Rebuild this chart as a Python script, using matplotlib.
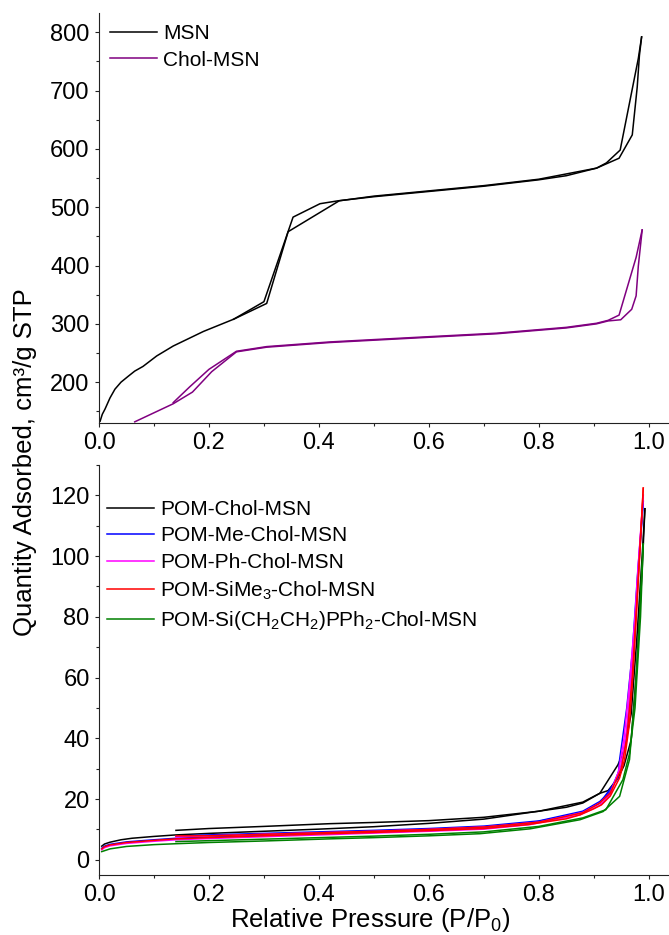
import matplotlib
matplotlib.use("Agg")
import matplotlib.pyplot as plt
from matplotlib.ticker import MultipleLocator, FormatStrFormatter

plt.rcParams['font.family'] = ['Liberation Sans', 'DejaVu Sans']
plt.rcParams['mathtext.fontset'] = 'custom'
plt.rcParams['mathtext.rm'] = 'Liberation Sans'
plt.rcParams['mathtext.it'] = 'Liberation Sans'

# ---- Upper panel: MSN and Chol-MSN isotherms ----
msn_ads_p = [0.002, 0.006, 0.011, 0.02, 0.029, 0.04, 0.053, 0.065, 0.08, 0.105, 0.135,
             0.19, 0.245, 0.30, 0.353, 0.402, 0.435, 0.5, 0.6, 0.7, 0.8, 0.85, 0.905,
             0.923, 0.948, 0.981, 0.987]
msn_ads_v = [133, 145, 154, 173, 188, 200, 210, 219, 227, 245, 262,
             287, 308, 338, 483, 506, 511, 518, 527, 536, 547, 554, 567,
             576, 598, 755, 792]
msn_des_p = [0.987, 0.983, 0.979, 0.970, 0.946, 0.905, 0.8, 0.7, 0.6, 0.5,
             0.437, 0.344, 0.305, 0.245]
msn_des_v = [792, 760, 706, 624, 584, 567, 548, 537, 528, 519,
             511, 458, 335, 308]

chol_ads_p = [0.065, 0.135, 0.17, 0.205, 0.25, 0.305, 0.42, 0.6, 0.723, 0.85,
              0.905, 0.926, 0.949, 0.969, 0.977, 0.981, 0.988]
chol_ads_v = [132, 163, 183, 218, 252, 260, 268, 277, 283, 293,
              300, 305, 307, 325, 348, 399, 461]
chol_des_p = [0.988, 0.977, 0.946, 0.926, 0.905, 0.85, 0.723, 0.6, 0.42, 0.305,
              0.25, 0.20, 0.165, 0.135]
chol_des_v = [461, 414, 315, 306, 301, 294, 284, 278, 269, 261,
              253, 222, 192, 165]

# ---- Lower panel: POM-loaded materials ----
pom_ads_p = {
    'POM-Chol-MSN': [0.005, 0.01, 0.02, 0.04, 0.06, 0.1, 0.14, 0.2, 0.3, 0.4, 0.5, 0.6,
                     0.7, 0.784, 0.85, 0.88, 0.911, 0.926, 0.944, 0.955, 0.968, 0.978, 0.988, 0.993],
    'POM-Me-Chol-MSN': [0.005, 0.01, 0.02, 0.05, 0.1, 0.14, 0.2, 0.3, 0.42, 0.5, 0.6,
                        0.7, 0.784, 0.875, 0.911, 0.92, 0.944, 0.947, 0.96, 0.97, 0.98, 0.99],
    'POM-Ph-Chol-MSN': [0.005, 0.01, 0.02, 0.05, 0.1, 0.14, 0.2, 0.3, 0.42, 0.5, 0.6,
                        0.7, 0.784, 0.875, 0.912, 0.93, 0.945, 0.955, 0.965, 0.975, 0.982, 0.99],
    'POM-SiMe$_3$-Chol-MSN': [0.005, 0.01, 0.02, 0.05, 0.1, 0.14, 0.2, 0.3, 0.4, 0.5, 0.6,
                              0.7, 0.78, 0.85, 0.875, 0.9, 0.914, 0.93, 0.947, 0.956, 0.965,
                              0.972, 0.982, 0.99],
    'POM-Si(CH$_2$CH$_2$)PPh$_2$-Chol-MSN': [0.005, 0.02, 0.05, 0.1, 0.14, 0.2, 0.3, 0.42,
                                             0.5, 0.6, 0.693, 0.784, 0.875, 0.917, 0.947,
                                             0.965, 0.975, 0.982, 0.987, 0.99],
}
pom_ads_v = {
    'POM-Chol-MSN': [4.5, 5.2, 5.8, 6.6, 7.1, 7.7, 8.2, 8.7, 9.4, 10.1, 10.9, 12.0,
                     13.4, 15.6, 17.3, 18.7, 21.9, 22.8, 26.9, 31.0, 39.5, 62.6, 95.6, 115.6],
    'POM-Me-Chol-MSN': [3.8, 4.5, 5.1, 5.9, 6.6, 7.1, 7.5, 8.1, 8.8, 9.3, 9.9,
                        10.6, 12.1, 15.4, 18.6, 20.9, 26.9, 33.0, 50.0, 68.0, 95.0, 118.0],
    'POM-Ph-Chol-MSN': [3.3, 4.0, 4.6, 5.4, 6.1, 6.6, 7.0, 7.6, 8.3, 8.8, 9.4,
                        10.1, 11.6, 14.8, 18.0, 21.5, 29.0, 40.0, 58.0, 80.0, 100.0, 120.0],
    'POM-SiMe$_3$-Chol-MSN': [3.6, 4.3, 4.9, 5.7, 6.4, 6.9, 7.3, 7.9, 8.5, 9.0, 9.6,
                              10.3, 11.6, 13.5, 14.8, 16.8, 18.1, 21.0, 27.0, 33.0, 45.0,
                              63.0, 95.0, 122.4],
    'POM-Si(CH$_2$CH$_2$)PPh$_2$-Chol-MSN': [2.7, 3.6, 4.4, 5.0, 5.3, 5.7, 6.2, 6.9,
                                             7.3, 7.9, 8.6, 10.2, 13.2, 15.9, 20.9,
                                             33.0, 55.0, 75.0, 95.0, 104.0],
}
pom_des_p = {
    'POM-Chol-MSN': [0.993, 0.988, 0.978, 0.968, 0.955, 0.944, 0.911, 0.88, 0.8, 0.7,
                     0.6, 0.5, 0.42, 0.3, 0.2, 0.14],
    'POM-Me-Chol-MSN': [0.99, 0.98, 0.97, 0.96, 0.95, 0.93, 0.911, 0.88, 0.8, 0.7,
                        0.6, 0.5, 0.4, 0.3, 0.2, 0.14],
    'POM-Ph-Chol-MSN': [0.99, 0.98, 0.97, 0.96, 0.95, 0.93, 0.912, 0.88, 0.8, 0.7,
                        0.6, 0.5, 0.4, 0.3, 0.2, 0.14],
    'POM-SiMe$_3$-Chol-MSN': [0.99, 0.98, 0.97, 0.96, 0.95, 0.93, 0.91, 0.88, 0.8, 0.7,
                              0.6, 0.5, 0.4, 0.3, 0.2, 0.14],
    'POM-Si(CH$_2$CH$_2$)PPh$_2$-Chol-MSN': [0.99, 0.985, 0.975, 0.965, 0.953, 0.922,
                                             0.88, 0.8, 0.7, 0.6, 0.5, 0.4, 0.3, 0.2,
                                             0.14],
}
pom_des_v = {
    'POM-Chol-MSN': [115.6, 100.0, 72.0, 48.0, 36.0, 31.3, 21.9, 19.0, 16.0, 14.0,
                     12.9, 12.3, 11.9, 11.0, 10.3, 9.7],
    'POM-Me-Chol-MSN': [118.0, 92.0, 62.0, 42.0, 31.0, 22.5, 19.2, 16.0, 12.8, 11.1,
                        10.3, 9.7, 9.2, 8.7, 8.2, 7.8],
    'POM-Ph-Chol-MSN': [120.0, 94.0, 64.0, 43.0, 31.0, 22.0, 18.8, 15.6, 12.4, 10.8,
                        10.0, 9.4, 8.9, 8.4, 7.9, 7.5],
    'POM-SiMe$_3$-Chol-MSN': [122.4, 90.0, 60.0, 40.0, 30.0, 22.0, 18.6, 15.5, 12.4, 10.8,
                              10.0, 9.4, 8.9, 8.4, 7.9, 7.9],
    'POM-Si(CH$_2$CH$_2$)PPh$_2$-Chol-MSN': [104.0, 80.0, 50.0, 35.0, 26.4, 16.5,
                                             13.8, 11.0, 9.2, 8.4, 7.8, 7.3, 6.8, 6.3,
                                             6.0],
}
pom_colors = ['#000000', '#0000FF', '#FF00FF', '#FF0000', '#008000']

LW = 1.1
TICK_FS = 17
LEG_FS = 15
LABEL_FS = 18.5

fig = plt.figure(figsize=(6.69, 9.35), dpi=100)
ax_top = fig.add_axes([99 / 669, 1 - 423 / 935, 569 / 669, 410 / 935])
ax_bot = fig.add_axes([99 / 669, 1 - 875 / 935, 569 / 669, 410 / 935])

ax_top.plot(msn_ads_p, msn_ads_v, color='#000000', lw=LW, label='MSN')
ax_top.plot(msn_des_p, msn_des_v, color='#000000', lw=LW)
ax_top.plot(chol_ads_p, chol_ads_v, color='#800080', lw=LW, label='Chol-MSN')
ax_top.plot(chol_des_p, chol_des_v, color='#800080', lw=LW)

for name, col in zip(pom_ads_p, pom_colors):
    ax_bot.plot(pom_ads_p[name], pom_ads_v[name], color=col, lw=LW, label=name)
    ax_bot.plot(pom_des_p[name], pom_des_v[name], color=col, lw=LW)

for ax in (ax_top, ax_bot):
    ax.set_xlim(0, 1.035)
    ax.spines['top'].set_visible(False)
    ax.spines['right'].set_visible(False)
    for s in ('left', 'bottom'):
        ax.spines[s].set_linewidth(0.8)
        ax.spines[s].set_color('#222222')
    ax.xaxis.set_major_locator(MultipleLocator(0.2))
    ax.xaxis.set_minor_locator(MultipleLocator(0.1))
    ax.xaxis.set_major_formatter(FormatStrFormatter('%.1f'))
    ax.tick_params(which='major', direction='out', length=3.2, width=0.8,
                   labelsize=TICK_FS, pad=3.5, color='#222222')
    ax.tick_params(which='minor', direction='out', length=2, width=0.8,
                   color='#222222')

ax_top.set_ylim(130, 833)
ax_top.yaxis.set_major_locator(MultipleLocator(100))
ax_top.yaxis.set_minor_locator(MultipleLocator(50))

ax_bot.set_ylim(-5, 130)
ax_bot.yaxis.set_major_locator(MultipleLocator(20))
ax_bot.yaxis.set_minor_locator(MultipleLocator(10))

ax_top.legend(loc='upper left', bbox_to_anchor=(0.005, 0.993), frameon=False,
              fontsize=LEG_FS, handlelength=2.25, handletextpad=0.3,
              labelspacing=0.36, borderaxespad=0.0)
ax_bot.legend(loc='upper left', bbox_to_anchor=(0.0, 0.935), frameon=False,
              fontsize=LEG_FS, handlelength=2.25, handletextpad=0.3,
              labelspacing=0.36, borderaxespad=0.0)

fig.text(25 / 669, 1 - 462 / 935, 'Quantity Adsorbed, cm³/g STP', rotation=90,
         ha='center', va='center', fontsize=LABEL_FS)
ax_bot.set_xlabel(r'Relative Pressure (P/P$_\mathregular{0}$)', fontsize=LABEL_FS)
ax_bot.xaxis.set_label_coords(0.477, -0.075)

fig.savefig('out.png', dpi=100)
